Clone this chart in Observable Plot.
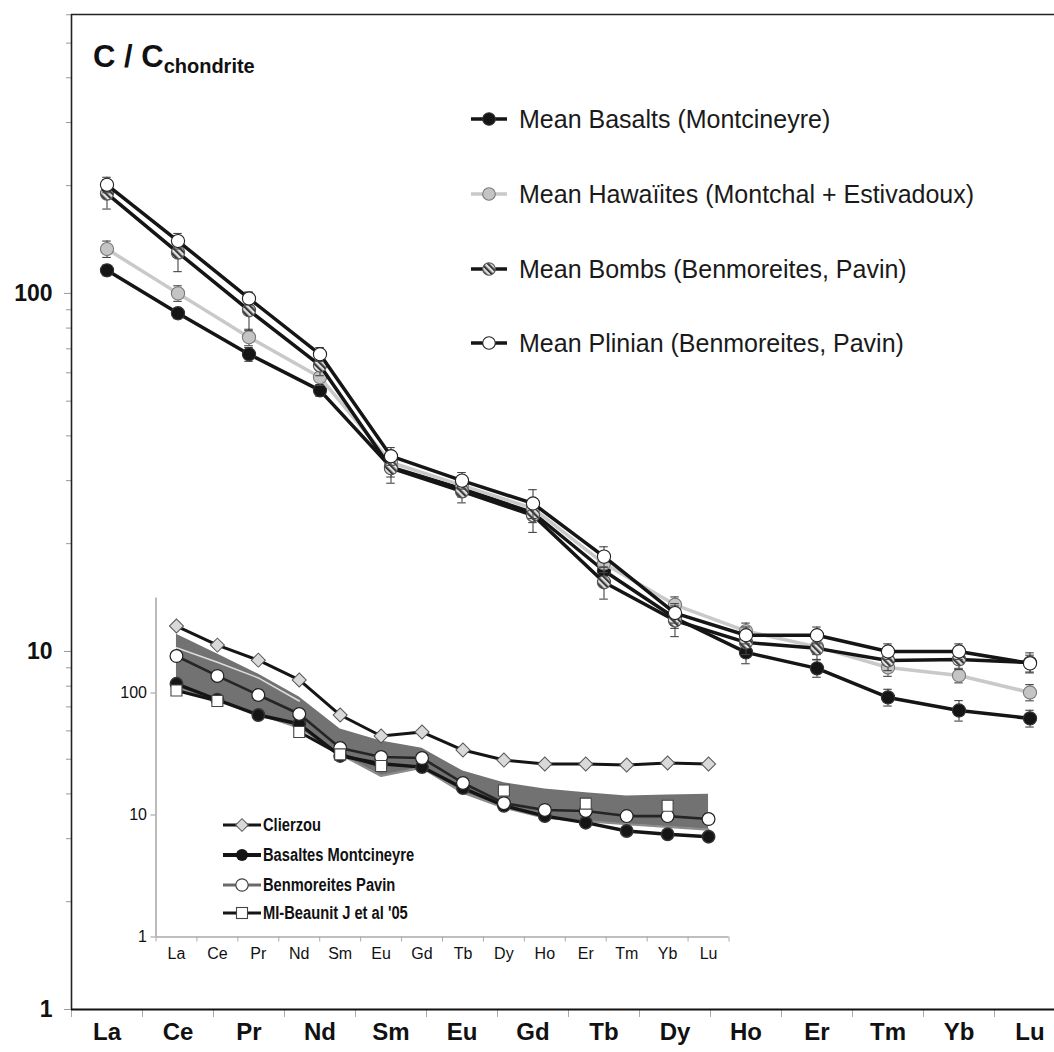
<!DOCTYPE html>
<html>
<head>
<meta charset="utf-8">
<script src="https://cdn.jsdelivr.net/npm/d3@7"></script>
<script src="https://cdn.jsdelivr.net/npm/@observablehq/plot@0.6"></script>
<style>
  body { margin: 0; background: #fff; }
  #wrap { position: relative; width: 1054px; height: 1052px; overflow: hidden; }
  #wrap svg { position: absolute; left: 0; top: 0; }
</style>
</head>
<body>
<div id="wrap"></div>
<script>
// ---------- data ----------
const elements = ["La","Ce","Pr","Nd","Sm","Eu","Gd","Tb","Dy","Ho","Er","Tm","Yb","Lu"];

// main chart (C / C chondrite)
const basalts   = [116, 88, 67.6, 53.6, 32.7, 28.5, 24.4, 16.8, 12.4, 9.94, 8.97, 7.44, 6.84, 6.50];
const hawaiites = [133, 100, 75.4, 58.3, 33.7, 29.1, 25.1, 17.6, 13.5, 11.4, 10.3, 9.02, 8.57, 7.68];
const bombs     = [190, 130, 89.7, 62.9, 32.5, 28.0, 24.0, 15.6, 12.2, 10.6, 10.2, 9.44, 9.5, 9.31];
const plinian   = [201, 140, 96.8, 67.6, 35.1, 30.0, 25.9, 18.4, 12.8, 11.1, 11.1, 10.0, 10.0, 9.26];

const basaltsErr   = [4, 3, 3, 2, 2, 1.5, 1.5, 1, 0.8, 0.7, 0.5, 0.4, 0.45, 0.35];
const hawaiitesErr = [7, 5, 4, 3, 2, 1.5, 1.5, 1, 0.7, 0.6, 0.5, 0.5, 0.4, 0.4];
const bombsErr     = [18, 15, 11, 4, 3, 2, 2.5, 1.6, 1.2, 0.8, 0.7, 0.6, 0.6, 0.6];
const plinianErr   = [10, 7, 4, 3, 2, 1.6, 2.4, 1.2, 0.8, 0.6, 0.6, 0.5, 0.5, 0.5];

const mainLegend = ["Mean Basalts (Montcineyre)", "Mean Hawaïites (Montchal + Estivadoux)",
                    "Mean Bombs (Benmoreites, Pavin)", "Mean Plinian (Benmoreites, Pavin)"];

// inset chart
const clierzou    = [354, 247, 186, 128, 66, 44.4, 47.9, 34.1, 28.2, 26.2, 26.2, 25.7, 26.7, 26.2];
const basaltesMont = [119, 88, 66, 55.7, 30.5, 26.3, 24.7, 16.6, 11.9, 9.8, 8.65, 7.4, 6.95, 6.64];
const benmoreites = [201, 138, 96.3, 67.3, 35.4, 29.9, 29.3, 18.3, 12.5, 11.0, 10.8, 9.8, 9.8, 9.27];
const miBeaunit   = [105, 86, null, 47.9, 31.4, 25.2, null, null, 15.9, null, 12.4, null, 11.9, null];
const bandHigh    = [303, 209, 143, 92.7, 50.7, 40.4, 35.2, 22.9, 18.4, 16.3, 15.2, 14.3, 14.6, 14.8];
const bandLow     = [110, 86, 67, 52, 31.5, 20.9, 24.4, 15.2, 11.5, 9.5, 8.9, 8.4, 8.0, 7.6];
const bandStreak  = [235, 179, 133, 86, null, null, null, null, null, null, null, null, null, null];

const insetLegend = ["Clierzou", "Basaltes Montcineyre", "Benmoreites Pavin", "MI-Beaunit J et al '05"];

const mainYTicks = [1, 10, 100];
const insetYTicks = [1, 10, 100];

// ---------- helpers ----------
const FONT = "'Liberation Sans', Arial, Helvetica, sans-serif";
const idx = d3.range(elements.length);
const rows = (vals, errs) => idx.map(i => ({i, v: vals[i], e: errs ? errs[i] : 0}))
  .filter(d => d.v != null);
const minorTicks = [];
for (const p of [1, 10, 100]) for (let k = 2; k <= 9; k++) if (k * p <= 600) minorTicks.push(k * p);
const HATCH = "#abcdef";

function seriesMarks(vals, errs, lineColor, fill, dotStroke) {
  const d = rows(vals, errs);
  return [
    Plot.line(d, {x: "i", y: "v", stroke: lineColor, strokeWidth: 3.5}),
    Plot.ruleX(d, {x: "i", y1: r => r.v - r.e, y2: r => r.v + r.e, stroke: "#444", strokeWidth: 1.1}),
    Plot.ruleY(d, {x1: r => r.i - 0.06, x2: r => r.i + 0.06, y: r => r.v + r.e, stroke: "#444", strokeWidth: 1.1}),
    Plot.ruleY(d, {x1: r => r.i - 0.06, x2: r => r.i + 0.06, y: r => r.v - r.e, stroke: "#444", strokeWidth: 1.1}),
    Plot.dot(d, {x: "i", y: "v", r: 6.6, fill, stroke: dotStroke, strokeWidth: 1.1})
  ];
}

// ---------- main chart ----------
const W = 1054, H = 1052;
const main = Plot.plot({
  width: W, height: H,
  marginLeft: 71, marginRight: 0, marginTop: 14, marginBottom: 43,
  style: {fontFamily: FONT, background: "transparent", color: "#111"},
  x: {type: "linear", domain: [-0.5, -0.5 + 983 / 71], axis: null},
  y: {type: "log", domain: [1, 601], axis: null},
  marks: [
    Plot.axisY({ticks: minorTicks, tickFormat: () => "", tickSize: 5, stroke: "#999", label: null}),
    Plot.axisY({ticks: mainYTicks, tickFormat: d => String(d), tickSize: 7, tickPadding: 12, label: null,
                stroke: "#999", fontSize: 23, fontWeight: "bold", fill: "#111"}),
    Plot.axisX({ticks: d3.range(-0.5, 14, 1), tickFormat: () => "", tickSize: 8, stroke: "#aaa", label: null}),
    Plot.axisX({ticks: idx, tickFormat: i => elements[i], tickSize: 0, tickPadding: 13, label: null,
                fontSize: 24, fontWeight: "bold", fill: "#111"}),
    Plot.ruleX([-0.5], {stroke: "#222", strokeWidth: 1.6}),
    Plot.ruleY([601], {stroke: "#222", strokeWidth: 1.6}),
    Plot.ruleY([1], {stroke: "#111", strokeWidth: 2.2}),
    ...seriesMarks(basalts, basaltsErr, "#151515", "#151515", "#333"),
    ...seriesMarks(hawaiites, hawaiitesErr, "#c9c9c9", "#c4c4c4", "#7a7a7a"),
    ...seriesMarks(bombs, bombsErr, "#151515", HATCH, "#555"),
    ...seriesMarks(plinian, plinianErr, "#151515", "#ffffff", "#222")
  ]
});

// ---------- inset chart ----------
const inset = Plot.plot({
  width: W, height: H,
  marginLeft: 155.5, marginRight: 325.5, marginTop: 597.5, marginBottom: 115.5,
  style: {fontFamily: FONT, background: "transparent", color: "#111"},
  x: {type: "linear", domain: [-0.5, 13.5], axis: null},
  y: {type: "log", domain: [1, 601], axis: null},
  marks: [
    Plot.axisY({ticks: insetYTicks, tickFormat: d => String(d), tickSize: 5, tickPadding: 4, label: null,
                stroke: "#999", fontSize: 16, fill: "#111"}),
    Plot.axisX({ticks: d3.range(-0.5, 14, 1), tickFormat: () => "", tickSize: 5, stroke: "#aaa", label: null}),
    Plot.axisX({ticks: idx, tickFormat: i => elements[i], tickSize: 0, tickPadding: 11, label: null,
                fontSize: 16, fill: "#111"}),
    Plot.ruleX([-0.5], {stroke: "#aaa", strokeWidth: 1.6}),
    Plot.ruleY([1], {stroke: "#aaa", strokeWidth: 1.6}),
    // envelope band
    Plot.areaY(idx, {x: i => i, y1: i => bandLow[i], y2: i => bandHigh[i], fill: "#727272"}),
    Plot.line(idx, {x: i => i, y: i => bandLow[i], stroke: "#fff", strokeWidth: 4, dy: 2}),
    Plot.line(idx, {x: i => i, y: i => bandLow[i], stroke: "#8c8c8c", strokeWidth: 2.2}),
    Plot.line(rows(bandStreak), {x: "i", y: "v", stroke: "#dcdcdc", strokeWidth: 1.6}),
    // Clierzou
    Plot.line(rows(clierzou), {x: "i", y: "v", stroke: "#151515", strokeWidth: 3}),
    Plot.dot(rows(clierzou), {x: "i", y: "v", symbol: "square", r: 5.6, rotate: 45,
                              fill: "#d9d9d9", stroke: "#555", strokeWidth: 1}),
    // Basaltes Montcineyre
    Plot.line(rows(basaltesMont), {x: "i", y: "v", stroke: "#151515", strokeWidth: 3.4}),
    Plot.dot(rows(basaltesMont), {x: "i", y: "v", r: 6.2, fill: "#151515", stroke: "#333"}),
    // Benmoreites Pavin
    Plot.line(rows(benmoreites), {x: "i", y: "v", stroke: "#252525", strokeWidth: 2.6}),
    Plot.dot(rows(benmoreites), {x: "i", y: "v", r: 6.4, fill: "#fff", stroke: "#222", strokeWidth: 1.2}),
    // MI Beaunit
    Plot.line(miBeaunit.map((v, i) => ({i, v})), {x: "i", y: "v", stroke: "#151515", strokeWidth: 3}),
    Plot.dot(rows(miBeaunit), {x: "i", y: "v", symbol: "square", r: 6.2, fill: "#fff",
                               stroke: "#444", strokeWidth: 1.1})
  ]
});

const wrap = document.getElementById("wrap");
wrap.appendChild(main);
wrap.appendChild(inset);

// hatch pattern for the Bombs markers
const ms = d3.select(main);
const defs = ms.insert("defs", ":first-child");
const pat = defs.append("pattern").attr("id", "hatch").attr("patternUnits", "userSpaceOnUse")
  .attr("width", 4.5).attr("height", 4.5).attr("patternTransform", "rotate(-45)");
pat.append("rect").attr("width", 4.5).attr("height", 4.5).attr("fill", "#e2e2e2");
pat.append("rect").attr("width", 2.2).attr("height", 4.5).attr("fill", "#3a3a3a");
ms.selectAll(`[fill="${HATCH}"]`).attr("fill", "url(#hatch)");

// title
const title = ms.append("text").attr("x", 93).attr("y", 67).attr("text-anchor", "start")
  .attr("font-family", FONT).attr("font-weight", "bold").attr("fill", "#111");
title.append("tspan").attr("font-size", 31).text("C / C");
title.append("tspan").attr("font-size", 20).attr("dy", 6).text("chondrite");

// main legend
const mlStyles = [
  {line: "#151515", fill: "#151515", stroke: "#333"},
  {line: "#c9c9c9", fill: "#c4c4c4", stroke: "#7a7a7a"},
  {line: "#151515", fill: "url(#hatch)", stroke: "#555"},
  {line: "#151515", fill: "#fff", stroke: "#222"}
];
const mlY = [119, 194, 269, 343];
mainLegend.forEach((label, k) => {
  const g = ms.append("g");
  const s = mlStyles[k];
  g.append("line").attr("x1", 471).attr("x2", 507).attr("y1", mlY[k]).attr("y2", mlY[k])
    .attr("stroke", s.line).attr("stroke-width", 3.6);
  g.append("circle").attr("cx", 489).attr("cy", mlY[k]).attr("r", 6.3)
    .attr("fill", s.fill).attr("stroke", s.stroke).attr("stroke-width", 1.1);
  g.append("text").attr("x", 519).attr("y", mlY[k]).attr("dy", "0.36em").attr("text-anchor", "start")
    .attr("font-family", FONT).attr("font-size", 25).attr("fill", "#1a1a1a").text(label);
});

// inset legend
const is = d3.select(inset);
const ilY = [825, 855, 885, 913];
insetLegend.forEach((label, k) => {
  const g = is.append("g");
  const y = ilY[k];
  const lineCol = k === 2 ? "#6a6a6a" : "#151515";
  g.append("line").attr("x1", 223).attr("x2", 261).attr("y1", y).attr("y2", y)
    .attr("stroke", lineCol).attr("stroke-width", k === 1 ? 4 : 3.2);
  if (k === 0) {
    g.append("rect").attr("x", -4.5).attr("y", -4.5).attr("width", 9).attr("height", 9)
      .attr("transform", `translate(242,${y}) rotate(45)`)
      .attr("fill", "#d9d9d9").attr("stroke", "#555");
  } else if (k === 1) {
    g.append("circle").attr("cx", 242).attr("cy", y).attr("r", 6).attr("fill", "#151515");
  } else if (k === 2) {
    g.append("circle").attr("cx", 242).attr("cy", y).attr("r", 6.2).attr("fill", "#fff")
      .attr("stroke", "#444").attr("stroke-width", 1.2);
  } else {
    g.append("rect").attr("x", 236.5).attr("y", y - 5.5).attr("width", 11).attr("height", 11)
      .attr("fill", "#fff").attr("stroke", "#444").attr("stroke-width", 1.1);
  }
  g.append("text").attr("transform", `translate(263,${y}) scale(0.84,1)`).attr("dy", "0.36em")
    .attr("text-anchor", "start")
    .attr("font-family", FONT).attr("font-size", 17.5).attr("font-weight", "bold")
    .attr("fill", "#111").text(label);
});
</script>
</body>
</html>
